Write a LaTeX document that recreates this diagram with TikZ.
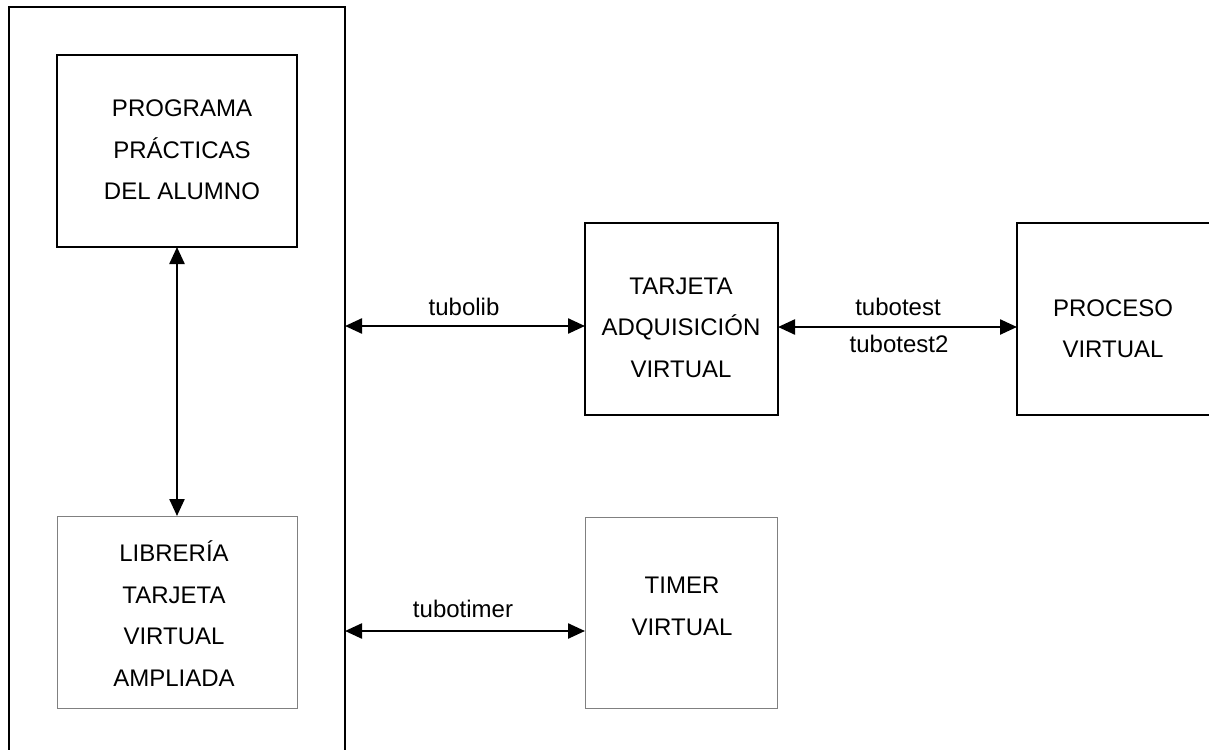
\documentclass[tikz,border=0pt]{standalone}
\usepackage{fontspec}
\setmainfont{Liberation Sans}
\usetikzlibrary{arrows.meta}
\definecolor{boxgray}{RGB}{128,128,128}
\begin{document}
\begin{tikzpicture}[x=1pt,y=-1pt,
  thickbox/.style={draw=black, line width=2pt, inner sep=0pt, outer sep=0pt},
  thinbox/.style={draw=boxgray, line width=1pt, inner sep=0pt, outer sep=0pt},
  txt/.style={align=center, font=\fontsize{24}{41.5}\selectfont, inner sep=0pt},
  lbl/.style={font=\fontsize{24}{28}\selectfont, inner sep=0pt, anchor=base},
  conn/.style={line width=2.4pt, {Triangle[length=17pt,width=15pt]}-{Triangle[length=17pt,width=15pt]}}]
\useasboundingbox (0,0) rectangle (1209,749);
\fill[white] (0,0) rectangle (1209,749);
\clip (0,0) rectangle (1209,749);
% boxes
\node[thickbox, minimum width=336pt, minimum height=793pt] (outer) at (177,403.5) {};
\node[thickbox, minimum width=240pt, minimum height=192pt] (programa) at (177,151) {};
\node[thinbox, minimum width=240pt, minimum height=192pt] (libreria) at (177,612) {};
\node[thickbox, minimum width=193pt, minimum height=192pt] (tarjeta) at (681.5,319) {};
\node[thickbox, minimum width=193pt, minimum height=192pt] (proceso) at (1113.5,319) {};
\node[thinbox, minimum width=192pt, minimum height=191pt] (timer) at (681,612.5) {};
% texts
\node[txt] (tprograma) at (182,150) {PROGRAMA\\PRÁCTICAS\\DEL ALUMNO};
\node[txt] (tlibreria) at (174,613.5) {LIBRERÍA\\TARJETA\\VIRTUAL\\AMPLIADA};
\node[txt] (ttarjeta) at (681,327.5) {TARJETA\\ADQUISICIÓN\\VIRTUAL};
\node[txt] (tproceso) at (1113,328.5) {PROCESO\\VIRTUAL};
\node[txt] (ttimer) at (682,606.5) {TIMER\\VIRTUAL};
% connectors
\coordinate (yA) at (0,326);
\coordinate (yB) at (0,327);
\coordinate (yC) at (0,631);
\draw[conn] (programa.south) -- (libreria.north);
\draw[conn] (outer.east |- yA) -- (tarjeta.west |- yA);
\draw[conn] (tarjeta.east |- yB) -- (proceso.west |- yB);
\draw[conn] (outer.east |- yC) -- (timer.west |- yC);
% labels
\node[lbl] (ltubolib) at (464,315) {tubolib};
\node[lbl] (ltubotest) at (898,315) {tubotest};
\node[lbl] (ltubotest2) at (899,352) {tubotest2};
\node[lbl] (ltubotimer) at (463,617) {tubotimer};
\end{tikzpicture}
\end{document}
